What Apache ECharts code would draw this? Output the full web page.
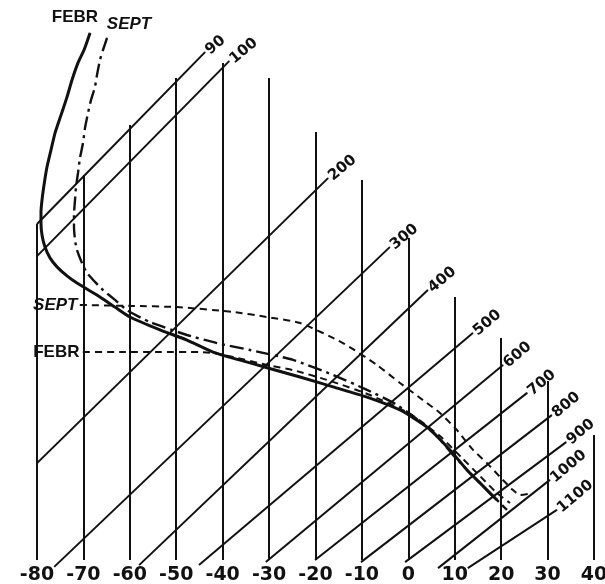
<!DOCTYPE html>
<html><head><meta charset="utf-8">
<script src="https://cdn.jsdelivr.net/npm/echarts@6/dist/echarts.min.js"></script>
<style>html,body{margin:0;padding:0;background:#fff}#c{width:605px;height:584px}</style>
</head><body><div id="c"></div>
<script>
// Temperature (°C) isotherms and their upper ends (diagram height units)
const temperatureTicks = [-80,-70,-60,-50,-40,-30,-20,-10,0,10,20,30,40];
const isothermTop = [11.2,12.83,14.5,16.07,16.57,16.07,14.27,12.67,10.73,8.77,7.4,5.97,4.17];
const isothermBase = [0,0,0,0,0,0,0,0,0,0,0,0,0];

// Isobars (mb): start and end points [temperature, height]
const isobarLabels = ['90','100','200','300','400','500','600','700','800','900','1000','1100'];
const isobarStart = [[-80,11.2],[-80,10.13],[-80,3.23],[-76.3,-0.23],[-58.0,-0.17],[-45.1,-0.17],[-30.7,-0.07],[-20.1,0],[-10.2,-0.07],[-0.7,-0.07],[6.4,-0.27],[12.8,-0.27]];
const isobarEnd = [[-43.8,16.93],[-38.6,16.63],[-17.3,12.73],[-4.0,10.43],[4.2,9.0],[13.9,7.57],[20.4,6.5],[25.6,5.57],[30.9,4.83],[34.0,3.93],[30.5,2.67],[32.0,1.67]];

// Soundings [temperature, height]
const febrTemp = [[-68.58,17.57],[-69.87,17.0],[-71.17,16.57],[-72.46,16.0],[-73.54,15.43],[-74.83,14.83],[-76.12,14.23],[-76.98,13.67],[-77.85,13.1],[-78.49,12.5],[-78.92,12.0],[-79.14,11.6],[-79.14,11.23],[-78.92,10.83],[-78.28,10.43],[-77.2,10.07],[-75.69,9.77],[-73.54,9.47],[-71.38,9.23],[-66.43,8.77],[-63.2,8.43],[-59.97,8.1],[-53.5,7.67],[-47.69,7.33],[-42.08,6.93],[-34.11,6.57],[-23.34,6.1],[-16.23,5.77],[-8.91,5.43],[-1.8,5.0],[4.02,4.43],[8.97,3.67],[12.63,3.0],[15.43,2.57],[17.59,2.23],[19.1,2.0]];
const septTemp = [[-64.92,17.4],[-65.78,17.0],[-66.43,16.67],[-67.07,16.17],[-67.51,15.77],[-68.37,15.33],[-69.01,14.9],[-69.66,14.4],[-70.09,13.9],[-70.74,13.4],[-71.17,12.9],[-71.6,12.43],[-71.81,12.0],[-72.03,11.5],[-72.03,11.1],[-71.81,10.67],[-71.38,10.33],[-70.31,9.9],[-69.23,9.57],[-67.51,9.27],[-65.78,9.0],[-63.2,8.67],[-60.61,8.33],[-55.66,7.93],[-47.69,7.5],[-41.22,7.23],[-34.11,7.0],[-24.85,6.67],[-16.23,6.17],[-8.91,5.67],[-2.45,5.17],[5.31,4.27],[9.62,3.5],[13.28,2.9],[16.94,2.33],[19.74,1.9],[21.25,1.67]];
const febrDashed = [[-70.09,6.93],[-62.12,6.93],[-53.5,6.93],[-44.89,6.93],[-42.08,6.9],[-37.78,6.77],[-30.45,6.5],[-24.85,6.33],[-16.88,5.97],[-8.26,5.5],[0.36,4.87],[6.82,4.13],[11.56,3.4],[15.43,2.8],[19.1,2.23],[21.9,1.9]];
const septDashed = [[-70.74,8.5],[-59.97,8.47],[-49.84,8.43],[-37.78,8.27],[-30.45,8.1],[-23.34,7.9],[-14.08,7.23],[-6.75,6.5],[-1.8,5.9],[3.16,5.33],[6.82,4.9],[10.48,4.33],[13.93,3.67],[16.94,3.23],[19.74,2.77],[22.54,2.33],[24.05,2.17],[26.85,2.23]];

const ink = '#111';
const chart = echarts.init(document.getElementById('c'), null, {renderer:'canvas'});
const labelFont = {fontFamily:'Liberation Sans', fontWeight:'bold', fontSize:17, color:ink, opacity:1};
const option = {
  animation:false,
  backgroundColor:'#fff',
  grid:{left:37,right:11,top:20,bottom:24,containLabel:false,outerBoundsMode:'none'},
  xAxis:{type:'value',min:-80,max:40,interval:10,
    axisLine:{show:false,onZero:false},
    axisTick:{show:false},splitLine:{show:false},
    axisLabel:{show:true,margin:6,fontSize:19,fontWeight:'bold',fontFamily:'DejaVu Sans',color:ink,
      showMinLabel:true,showMaxLabel:true,hideOverlap:false,
      formatter:v=>temperatureTicks.includes(v)?String(v):''}},
  yAxis:{type:'value',min:0,max:18,show:false},
  series:[
    {type:'lines',coordinateSystem:'cartesian2d',silent:true,clip:false,
      lineStyle:{color:ink,width:2,opacity:1},
      data:temperatureTicks.map((t,i)=>({coords:[[t,isothermBase[i]],[t,isothermTop[i]]]}))},
    {type:'lines',coordinateSystem:'cartesian2d',silent:true,clip:false,
      lineStyle:{color:ink,width:2,opacity:1},
      data:isobarStart.map((s,i)=>({coords:[s,isobarEnd[i]]}))},
    {type:'scatter',symbolSize:1,itemStyle:{color:ink,opacity:1},silent:true,clip:false,
      label:{show:true,position:'right',distance:2,rotate:40,formatter:'{b}',
        fontFamily:'DejaVu Sans',fontWeight:'bold',fontSize:15,color:ink,opacity:1},
      data:isobarEnd.map((p,i)=>({name:isobarLabels[i],value:p}))},
    {type:'line',name:'FEBR',data:febrTemp,showSymbol:false,smooth:0.2,clip:false,
      lineStyle:{color:ink,width:3}},
    {type:'line',name:'SEPT',data:septTemp,showSymbol:false,smooth:0.2,clip:false,
      lineStyle:{color:ink,width:2.4,type:[14,5,3,5]}},
    {type:'line',name:'FEBR dashed',data:febrDashed,showSymbol:false,smooth:0.2,clip:false,
      lineStyle:{color:ink,width:2,type:[7,5]}},
    {type:'line',name:'SEPT dashed',data:septDashed,showSymbol:false,smooth:0.2,clip:false,
      lineStyle:{color:ink,width:2,type:[7,5]}},
    {type:'scatter',symbolSize:1,itemStyle:{color:ink,opacity:1},silent:true,clip:false,
      data:[
        {value:febrTemp[0],label:Object.assign({show:true,formatter:'FEBR',position:'top',distance:7,offset:[-15,0]},labelFont)},
        {value:septTemp[0],label:Object.assign({show:true,formatter:'SEPT',position:'top',distance:5,offset:[22,0],fontStyle:'italic'},labelFont)},
        {value:septDashed[0],label:Object.assign({show:true,formatter:'SEPT',position:'left',distance:2,fontStyle:'italic'},labelFont)},
        {value:febrDashed[0],label:Object.assign({show:true,formatter:'FEBR',position:'left',distance:3},labelFont)}
      ]}
  ]
};
chart.setOption(option);
</script></body></html>
